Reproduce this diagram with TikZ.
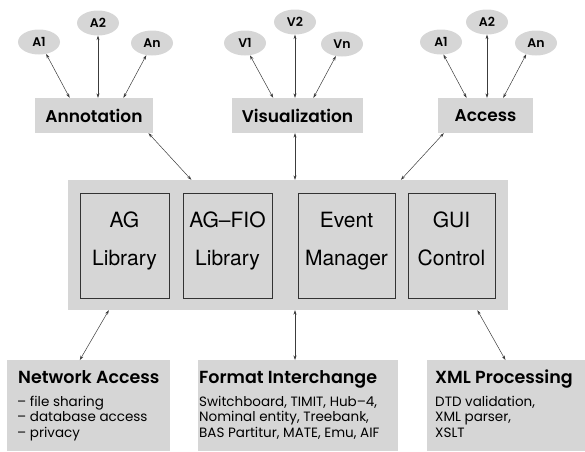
\documentclass[tikz,border=0pt]{standalone}
\usepackage{fontspec}
\usepackage{tikz}
\usetikzlibrary{arrows.meta,positioning,shapes.geometric}

\newfontfamily\agfont{Poppins}[BoldFont={Poppins SemiBold}]
\newfontfamily\hvfont{TeX Gyre Heros}
\definecolor{boxgray}{RGB}{214,214,214}
\definecolor{linkgray}{RGB}{60,60,60}

\tikzset{
  usecase/.style={ellipse, fill=boxgray, minimum width=42pt, minimum height=25pt, inner sep=0pt,
    font=\agfont\bfseries\fontsize{12.5}{14}\selectfont},
  client/.style={rectangle, fill=boxgray, minimum height=35pt, inner sep=0pt,
    font=\agfont\bfseries\fontsize{17}{20}\selectfont},
  core/.style={rectangle, fill=boxgray, inner sep=0pt},
  module/.style={rectangle, fill=boxgray, draw=black!80, line width=0.7pt, minimum height=105pt,
    inner sep=0pt, align=center, text depth=14pt, font=\hvfont\fontsize{21}{38}\selectfont},
  infobox/.style={rectangle, fill=boxgray, minimum height=91pt, inner sep=0pt, anchor=north west},
  boxtitle/.style={anchor=base west, inner sep=0pt, font=\agfont\bfseries\fontsize{17.5}{20}\selectfont},
  boxtext/.style={anchor=base west, inner sep=0pt, align=left, font=\agfont\fontsize{13.5}{15.5}\selectfont},
  link/.style={{Stealth[length=4.5pt,width=3pt]}-{Stealth[length=4.5pt,width=3pt]},
    draw=linkgray, line width=0.5pt}
}

\begin{document}
\begin{tikzpicture}[x=1pt, y=-1pt, on grid]
\useasboundingbox (0,0) rectangle (585,451);

% client tools
\node (annot) [client, minimum width=118pt] at (94,115.5) {Annotation};
\node (vis)   [client, minimum width=131pt] at (297.5,115.5) {Visualization};
\node (acc)   [client, minimum width=95pt]  at (485.5,115.5) {Access};

\node (ann1) [usecase, above left=73.5pt and 55pt of annot]   {A1};
\node (ann2) [usecase, above right=92.5pt and 4pt of annot]   {A2};
\node (annn) [usecase, above right=72.5pt and 58pt of annot]  {An};
\node (vis1) [usecase, above left=72.5pt and 52.5pt of vis]   {V1};
\node (vis2) [usecase, above left=93.5pt and 2.5pt of vis]    {V2};
\node (visn) [usecase, above right=71.5pt and 44.5pt of vis]  {Vn};
\node (acc1) [usecase, above left=73.5pt and 44.5pt of acc]   {A1};
\node (acc2) [usecase, above right=93.5pt and 1.5pt of acc]   {A2};
\node (accn) [usecase, above right=72.5pt and 50.5pt of acc]  {An};

% core
\node (core) [core, minimum width=440pt, minimum height=130pt] at (288,245) {};
\node (aglib)  [module, minimum width=89pt] at (124.5,245.5) {AG\\Library};
\node (agfio)  [module, minimum width=89pt] at (227.5,245.5) {AG\textendash FIO\\Library};
\node (evman)  [module, minimum width=97pt] at (346.5,245.5) {Event\\Manager};
\node (guictl) [module, minimum width=87pt] at (451.5,245.5) {GUI\\Control};

% services
\node (netbox) [infobox, minimum width=163pt] at (7,360) {};
\node (fmtbox) [infobox, minimum width=200pt] at (198,360) {};
\node (xmlbox) [infobox, minimum width=158pt] at (427,360) {};

\node (nettitle) [boxtitle] at (18,383)  {Network Access};
\node (fmttitle) [boxtitle] at (199,383) {Format Interchange};
\node (xmltitle) [boxtitle] at (435,383) {XML Processing};

% base of a multi-line node sits on its last line
\node (netlist) [boxtext] at (17,437)
  {\textendash{} file sharing\\\textendash{} database access\\\textendash{} privacy};
\node (fmtlist) [boxtext] at (199,437)
  {Switchboard, TIMIT, Hub\textendash 4,\\Nominal entity, Treebank,\\BAS Partitur, MATE, Emu, AIF};
\node (xmllist) [boxtext] at (435,437)
  {DTD validation,\\XML parser,\\XSLT};

% links
\draw[link] (ann1.-59) -- (annot.144);
\draw[link] (ann2.south) -- (ann2.south |- annot.north);
\draw[link] (annn.-115) -- (annot.31);
\draw[link] (vis1.-68) -- (vis.144);
\draw[link] (vis2.south) -- (vis2.south |- vis.north);
\draw[link] (visn.-117) -- (vis.48);
\draw[link] (acc1.-79) -- (acc.137);
\draw[link] (acc2.south) -- (acc2.south |- acc.north);
\draw[link] (accn.-131) -- (acc.45);

\draw[link] (annot.-18) -- (core.146);
\draw[link] (vis2.south |- vis.south) -- (vis2.south |- core.north);
\draw[link] (acc.203) -- (core.30);
\draw[link] (core.200) -- (netbox.101);
\draw[link] (vis2.south |- core.south) -- (vis2.south |- fmtbox.north);
\draw[link] (core.-19) -- (xmlbox.91);
\end{tikzpicture}
\end{document}
